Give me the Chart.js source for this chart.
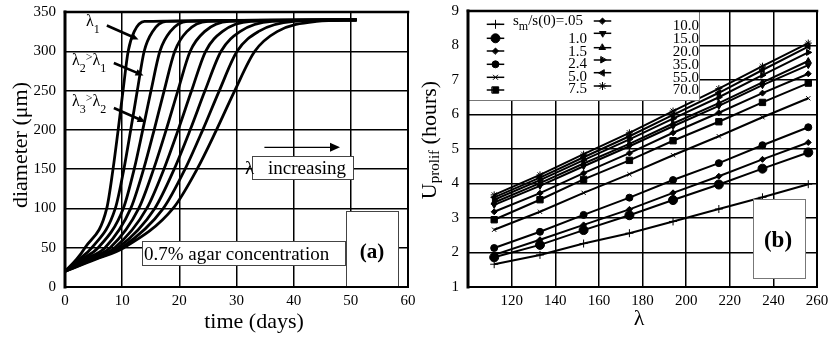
<!DOCTYPE html>
<html>
<head>
<meta charset="utf-8">
<script src="https://cdn.jsdelivr.net/npm/chart.js@4.4.1/dist/chart.umd.min.js"></script>
<style>
  html, body { margin: 0; padding: 0; background: #fff; }
  body { width: 829px; height: 338px; position: relative; overflow: hidden; }
  .panel { position: absolute; top: 0; height: 338px; }
  #panelA { left: 0; width: 420px; }
  #panelB { left: 420px; width: 409px; }
</style>
</head>
<body>
<div class="panel" id="panelA"><canvas id="growthChart"></canvas></div>
<div class="panel" id="panelB"><canvas id="prolifChart"></canvas></div>
<script>
const SERIF = '"Liberation Serif", "Times New Roman", Times, serif';

// (a) day at which each curve passes these diameters (um)
const diameterLevels = [20, 35, 50, 100, 150, 200, 250, 300, 325, 338, 340];
const curve1Times = [0, 2.0, 3.5, 7.3, 8.4, 9.3, 10.15, 11.05, 12.1, 13.9, 51];
const curve2Times = [0, 2.4, 4.7, 8.8, 10.3, 11.5, 12.65, 13.85, 15.3, 17.7, 51];
const curve3Times = [0, 2.8, 5.8, 10.2, 12.1, 13.6, 15.05, 16.6, 18.4, 21.4, 51];
const curve4Times = [0, 3.3, 7.0, 11.5, 13.75, 15.6, 17.35, 19.2, 21.3, 25.0, 51];
const curve5Times = [0, 3.7, 7.9, 12.9, 15.5, 17.7, 19.75, 21.9, 24.4, 28.7, 51];
const curve6Times = [0, 4.1, 8.7, 14.3, 17.3, 19.8, 22.15, 24.6, 27.5, 32.5, 51];
const curve7Times = [0, 4.5, 9.3, 15.7, 19.1, 21.9, 24.5, 27.3, 30.6, 36.2, 51];
const curve8Times = [0, 4.9, 9.9, 17.2, 21.0, 24.1, 27.0, 30.1, 33.8, 40.0, 51];
const curve9Times = [0, 5.3, 10.3, 18.9, 23.1, 26.5, 29.7, 33.2, 37.1, 44.0, 51];

// (b) U_prolif (hours) against lambda
const lambdaValues = [112, 133, 153, 174, 194, 215, 235, 256];
const ratioLabels = [".05", "1.0", "1.5", "2.4", "5.0", "7.5", "10.0", "15.0", "20.0", "35.0", "55.0", "70.0"];
const uRatio005 = [1.66, 1.93, 2.26, 2.56, 2.90, 3.26, 3.60, 3.98];
const uRatio1_0 = [1.86, 2.22, 2.65, 3.08, 3.52, 3.97, 4.43, 4.90];
const uRatio1_5 = [1.93, 2.37, 2.80, 3.25, 3.73, 4.21, 4.70, 5.19];
const uRatio2_4 = [2.13, 2.60, 3.09, 3.59, 4.10, 4.59, 5.11, 5.63];
const uRatio5_0 = [2.66, 3.18, 3.73, 4.27, 4.82, 5.37, 5.92, 6.47];
const uRatio7_5 = [2.95, 3.53, 4.12, 4.67, 5.24, 5.79, 6.35, 6.91];
const uRatio10 = [3.18, 3.72, 4.30, 4.88, 5.47, 6.05, 6.62, 7.18];
const uRatio15 = [3.38, 3.93, 4.50, 5.08, 5.66, 6.25, 6.85, 7.43];
const uRatio20 = [3.45, 4.01, 4.58, 5.15, 5.74, 6.33, 6.93, 7.55];
const uRatio35 = [3.53, 4.10, 4.68, 5.28, 5.88, 6.50, 7.14, 7.80];
const uRatio55 = [3.60, 4.17, 4.76, 5.37, 5.99, 6.63, 7.29, 7.97];
const uRatio70 = [3.67, 4.25, 4.85, 5.47, 6.10, 6.75, 7.40, 8.07];

const growthCurves = [curve1Times, curve2Times, curve3Times, curve4Times, curve5Times,
  curve6Times, curve7Times, curve8Times, curve9Times];
const prolifSeries = [uRatio005, uRatio1_0, uRatio1_5, uRatio2_4, uRatio5_0, uRatio7_5,
  uRatio10, uRatio15, uRatio20, uRatio35, uRatio55, uRatio70];

// marker look for each s_m/s(0) line
const markerStyles = [
  { style: "cross", r: 4, rot: 0 },
  { style: "circle", r: 4.5, rot: 0 },
  { style: "rectRot", r: 3, rot: 0 },
  { style: "circle", r: 3.5, rot: 0 },
  { style: "crossRot", r: 3, rot: 0 },
  { style: "rect", r: 4.5, rot: 0 },
  { style: "rectRot", r: 3, rot: 0 },
  { style: "triangle", r: 3.5, rot: 180 },
  { style: "triangle", r: 3.5, rot: 0 },
  { style: "triangle", r: 3.5, rot: 90 },
  { style: "triangle", r: 3.5, rot: -90 },
  { style: "star", r: 3.5, rot: 0 }
];

function tickFont() {
  return { family: SERIF, size: 15 };
}

function drawBox(ctx, x, y, w, h, stroke) {
  ctx.fillStyle = "#fff";
  ctx.fillRect(x, y, w, h);
  ctx.strokeStyle = stroke;
  ctx.lineWidth = 1;
  ctx.strokeRect(x + 0.5, y + 0.5, w - 1, h - 1);
}

function drawArrow(ctx, x1, y1, x2, y2, width, headLen, headHalf) {
  const ang = Math.atan2(y2 - y1, x2 - x1);
  const c = Math.cos(ang), s = Math.sin(ang);
  ctx.strokeStyle = "#000";
  ctx.fillStyle = "#000";
  ctx.lineWidth = width;
  ctx.beginPath();
  ctx.moveTo(x1, y1);
  ctx.lineTo(x2 - headLen * c, y2 - headLen * s);
  ctx.stroke();
  ctx.beginPath();
  ctx.moveTo(x2, y2);
  ctx.lineTo(x2 - headLen * c + headHalf * s, y2 - headLen * s - headHalf * c);
  ctx.lineTo(x2 - headLen * c - headHalf * s, y2 - headLen * s + headHalf * c);
  ctx.closePath();
  ctx.fill();
}

// parts: [text, size, dy]
function richWidth(ctx, parts, weight) {
  let w = 0;
  parts.forEach(([text, size]) => {
    ctx.font = `${weight || ""} ${size}px ${SERIF}`;
    w += ctx.measureText(text).width;
  });
  return w;
}

function drawRich(ctx, x, y, parts, weight) {
  ctx.textAlign = "left";
  ctx.textBaseline = "alphabetic";
  ctx.fillStyle = "#000";
  let cx = x;
  parts.forEach(([text, size, dy]) => {
    ctx.font = `${weight || ""} ${size}px ${SERIF}`;
    ctx.fillText(text, cx, y + dy);
    cx += ctx.measureText(text).width;
  });
}

function drawVertical(ctx, x, yCenter, parts) {
  ctx.save();
  ctx.translate(x, yCenter);
  ctx.rotate(-Math.PI / 2);
  const w = richWidth(ctx, parts);
  drawRich(ctx, -w / 2, 0, parts);
  ctx.restore();
}

function drawFrame(ctx, a, widths) {
  ctx.strokeStyle = "#000";
  ctx.lineCap = "square";
  const [left, top, right, bottom] = widths;
  ctx.lineWidth = left;
  ctx.beginPath(); ctx.moveTo(a.left, a.top); ctx.lineTo(a.left, a.bottom); ctx.stroke();
  ctx.lineWidth = top;
  ctx.beginPath(); ctx.moveTo(a.left, a.top); ctx.lineTo(a.right, a.top); ctx.stroke();
  ctx.lineWidth = right;
  ctx.beginPath(); ctx.moveTo(a.right, a.top); ctx.lineTo(a.right, a.bottom); ctx.stroke();
  ctx.lineWidth = bottom;
  ctx.beginPath(); ctx.moveTo(a.left, a.bottom); ctx.lineTo(a.right, a.bottom); ctx.stroke();
}

const growthDecor = {
  id: "growthDecor",
  afterDatasetsDraw(chart) {
    const ctx = chart.ctx;
    ctx.save();

    drawBox(ctx, 252, 156, 102, 24, "#444");
    drawBox(ctx, 142, 241, 204, 25, "#444");
    drawBox(ctx, 346, 211, 53, 76, "#444");

    drawFrame(ctx, chart.chartArea, [3, 2.5, 2, 2]);

    ctx.fillStyle = "#000";
    drawRich(ctx, 245, 173.5, [["λ", 19, 0]]);
    drawRich(ctx, 268, 173.5, [["increasing", 19, 0]]);
    drawRich(ctx, 144, 260, [["0.7% agar concentration", 19, 0]]);

    ctx.font = `bold 21px ${SERIF}`;
    ctx.textAlign = "center";
    ctx.textBaseline = "middle";
    ctx.fillText("(a)", 372, 253);

    drawArrow(ctx, 265, 147.3, 340, 147.3, 1.2, 10, 4.5);

    drawRich(ctx, 86, 26, [["λ", 16, 0], ["1", 12, 7]]);
    drawRich(ctx, 72, 65, [["λ", 16, 0], ["2", 12, 7], [">", 12, -4], ["λ", 16, 0], ["1", 12, 7]]);
    drawRich(ctx, 72, 106, [["λ", 16, 0], ["3", 12, 7], [">", 12, -4], ["λ", 16, 0], ["2", 12, 7]]);
    drawArrow(ctx, 108, 26, 138.5, 39.5, 2.5, 8, 3.5);
    drawArrow(ctx, 115, 63.5, 143.5, 75.5, 2.5, 8, 3.5);
    drawArrow(ctx, 115, 108.5, 145.5, 122, 2.5, 8, 3.5);

    // axis titles
    drawVertical(ctx, 27, 145, [["diameter (μm)", 22, 0]]);
    ctx.font = `22px ${SERIF}`;
    ctx.textAlign = "center";
    ctx.textBaseline = "alphabetic";
    ctx.fillStyle = "#000";
    ctx.fillText("time (days)", 254, 328);

    ctx.restore();
  }
};

function legendPoint(ctx, style, x, y) {
  ctx.fillStyle = "#000";
  ctx.strokeStyle = "#000";
  ctx.lineWidth = 1;
  if (Chart.helpers && Chart.helpers.drawPoint) {
    Chart.helpers.drawPoint(ctx, { pointStyle: style.style, radius: style.r, rotation: style.rot, borderWidth: 1 }, x, y);
  } else {
    ctx.beginPath();
    ctx.arc(x, y, style.r, 0, Math.PI * 2);
    ctx.fill();
  }
}

const prolifDecor = {
  id: "prolifDecor",
  afterDatasetsDraw(chart) {
    const ctx = chart.ctx;
    ctx.save();

    drawBox(ctx, 48, 11, 232, 90, "#777");
    drawBox(ctx, 333, 199, 53, 80, "#777");

    drawFrame(ctx, chart.chartArea, [3, 2.5, 2, 2]);

    // legend, two columns of six
    const col1Rows = [24.3, 38.3, 51, 64.3, 77.3, 90];
    const col1Base = [25, 43, 55.5, 68, 80.5, 93];
    const col2Rows = [21, 33.3, 47.7, 60, 72.7, 86];
    const col2Base = [30, 43, 56, 69, 81.7, 94];
    for (let i = 0; i < 6; i++) {
      [[75.5, col1Rows[i], i], [182.5, col2Rows[i], i + 6]].forEach(([mx, my, k]) => {
        ctx.strokeStyle = "#000";
        ctx.lineWidth = 1.5;
        ctx.beginPath();
        ctx.moveTo(mx - 8, my);
        ctx.lineTo(mx + 8, my);
        ctx.stroke();
        legendPoint(ctx, markerStyles[k], mx, my);
      });
      ctx.font = `15px ${SERIF}`;
      ctx.textAlign = "right";
      ctx.textBaseline = "alphabetic";
      ctx.fillStyle = "#000";
      if (i > 0) ctx.fillText(ratioLabels[i], 167, col1Base[i]);
      ctx.fillText(ratioLabels[i + 6], 279, col2Base[i]);
    }
    drawRich(ctx, 93, col1Base[0], [["s", 15, 0], ["m", 12, 5], ["/s(0)=" + ratioLabels[0], 15, 0]]);

    ctx.font = `bold 23px ${SERIF}`;
    ctx.textAlign = "center";
    ctx.textBaseline = "middle";
    ctx.fillStyle = "#000";
    ctx.fillText("(b)", 358, 241);

    // axis titles
    drawVertical(ctx, 15.5, 140, [["U", 22, 0], ["prolif", 15, 3.5], [" (hours)", 22, 0]]);
    ctx.font = `22px ${SERIF}`;
    ctx.textAlign = "center";
    ctx.textBaseline = "alphabetic";
    ctx.fillText("λ", 219, 325);

    ctx.restore();
  }
};

new Chart(document.getElementById("growthChart"), {
  type: "line",
  data: {
    datasets: growthCurves.map(times => ({
      data: times.map((t, i) => ({ x: t, y: diameterLevels[i] })),
      borderColor: "#000",
      borderWidth: 2.8,
      pointRadius: 0,
      fill: false,
      cubicInterpolationMode: "monotone"
    }))
  },
  options: {
    responsive: true,
    maintainAspectRatio: false,
    animation: false,
    layout: { padding: { left: 0, right: 12, top: 12, bottom: 0 } },
    plugins: { legend: { display: false }, tooltip: { enabled: false } },
    scales: {
      x: {
        type: "linear",
        min: 0,
        max: 60,
        ticks: { stepSize: 10, font: tickFont(), color: "#000", padding: 5, maxRotation: 0 },
        grid: { color: "#000", lineWidth: 1.5, drawTicks: false },
        border: { display: false },
        afterFit: s => { s.height = 51; s.paddingLeft = 0; s.paddingRight = 0; }
      },
      y: {
        min: 0,
        max: 350,
        ticks: { stepSize: 50, font: tickFont(), color: "#000", padding: 9 },
        grid: { color: "#000", lineWidth: 1.5, drawTicks: false },
        border: { display: false },
        afterFit: s => { s.width = 65; s.paddingTop = 0; s.paddingBottom = 0; }
      }
    }
  },
  plugins: [growthDecor]
});

new Chart(document.getElementById("prolifChart"), {
  type: "line",
  data: {
    datasets: prolifSeries.map((vals, i) => ({
      label: ratioLabels[i],
      data: vals.map((v, j) => ({ x: lambdaValues[j], y: v })),
      borderColor: "#000",
      backgroundColor: "#000",
      borderWidth: 2,
      pointStyle: markerStyles[i].style,
      pointRadius: markerStyles[i].r,
      pointRotation: markerStyles[i].rot,
      pointBorderWidth: 1,
      fill: false,
      tension: 0
    }))
  },
  options: {
    responsive: true,
    maintainAspectRatio: false,
    animation: false,
    layout: { padding: { left: 0, right: 12, top: 11, bottom: 0 } },
    plugins: { legend: { display: false }, tooltip: { enabled: false } },
    scales: {
      x: {
        type: "linear",
        min: 100,
        max: 260,
        ticks: {
          stepSize: 20,
          font: tickFont(),
          color: "#000",
          padding: 5,
          maxRotation: 0,
          callback: v => (v === 100 ? "" : v)
        },
        grid: { color: "#000", lineWidth: 1.5, drawTicks: false },
        border: { display: false },
        afterFit: s => { s.height = 51; s.paddingLeft = 0; s.paddingRight = 0; }
      },
      y: {
        min: 1,
        max: 9,
        ticks: { stepSize: 1, font: tickFont(), color: "#000", padding: 9 },
        grid: { color: "#000", lineWidth: 1.5, drawTicks: false },
        border: { display: false },
        afterFit: s => { s.width = 48; s.paddingTop = 0; s.paddingBottom = 0; }
      }
    }
  },
  plugins: [prolifDecor]
});
</script>
</body>
</html>
